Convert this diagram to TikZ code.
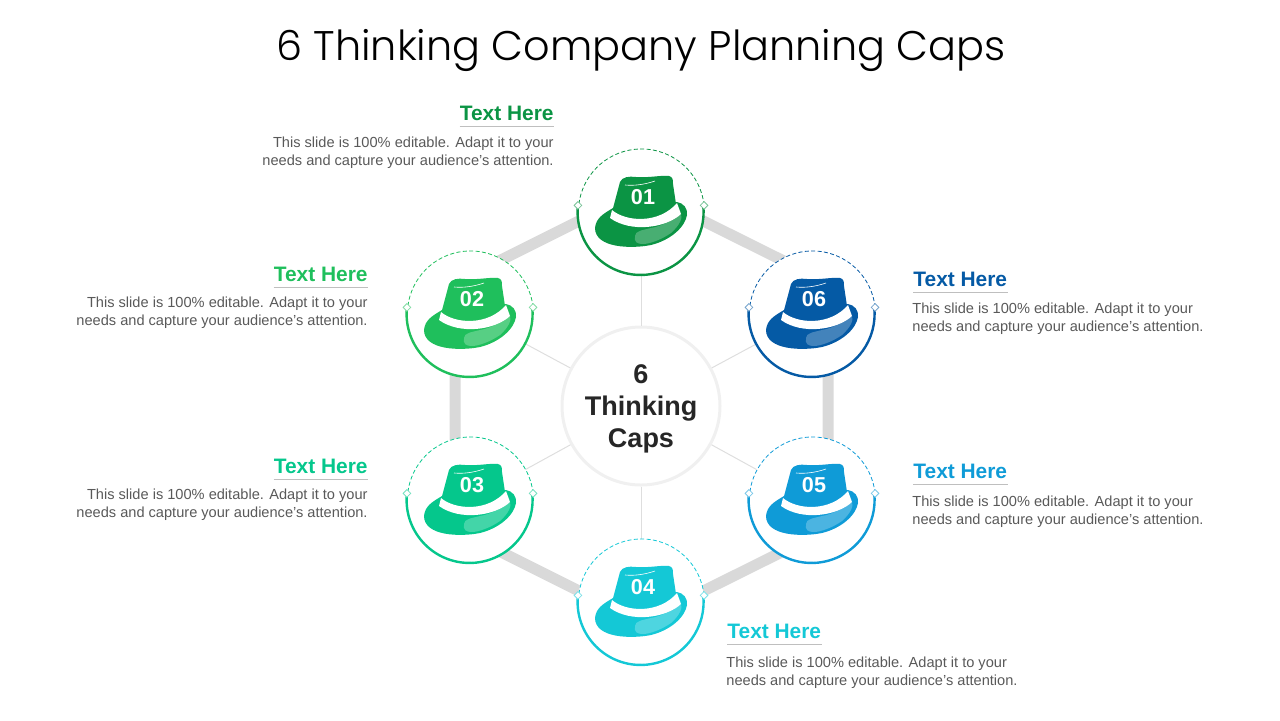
\documentclass[tikz,border=0pt]{standalone}
\usepackage{fontspec}
\setmainfont{Liberation Sans}
\newfontfamily\titlefont{Poppins Light}
\usetikzlibrary{shapes.geometric}
\definecolor{capa}{HTML}{0B9444}
\definecolor{capb}{HTML}{1FBF5C}
\definecolor{capc}{HTML}{05C78C}
\definecolor{capd}{HTML}{14C8D6}
\definecolor{cape}{HTML}{0F9BD7}
\definecolor{capf}{HTML}{055AA5}
\definecolor{bartone}{HTML}{D9D9D9}
\definecolor{bodytone}{HTML}{595959}
\tikzset{
	capring/.style={circle,fill=white,minimum size=63pt,inner sep=0pt},
	tick/.style={diamond,draw=#1!55!white,fill=white,line width=.4pt,minimum size=4pt,inner sep=0pt},
	headtext/.style={font=\bfseries\fontsize{10.45}{12}\selectfont,inner sep=0pt,text=#1},
	bodytext/.style={font=\fontsize{7.3}{9}\selectfont,text=bodytone,inner sep=0pt},
	pics/hat/.style args={#1/#2}{code={
		\fill[#1] (-46,16) .. controls (-45,6) and (-38,2) .. (-28,-4) -- (36,-10) .. controls (42,-9) and (47,-4) .. (46,3) .. controls (44,15) and (30,28) .. (10,33) .. controls (-10,37) and (-46,36) .. (-46,16) -- cycle;
		\fill[#1] (-29,0) -- (-21,-30) .. controls (-19,-35) and (-12,-36) .. (-5,-35) .. controls (8,-34) and (20,-37) .. (28,-36) .. controls (32,-35) and (32,-32) .. (32,-28) -- (35,-8) -- cycle;
		\fill[white,opacity=.25] (-6,24) .. controls (-6,19) and (2,18) .. (10,16) .. controls (22,14) and (33,7) .. (40,2) .. controls (42,6) and (38,14) .. (30,21) .. controls (20,28) and (8,32) .. (2,32) .. controls (-4,32) and (-7,30) .. (-6,24) -- cycle;
		\fill[white] (-29,-2) .. controls (-15,10) and (18,12) .. (36,-9) -- (40,2) .. controls (25,16) and (-10,21) .. (-31,6) -- cycle;
		\draw[white,line width=.3pt] (-16,-27) .. controls (-5,-26) and (5,-28) .. (14,-31);
		\node[text=white,font=\bfseries\fontsize{10.8}{12}\selectfont,inner sep=0pt] at (2,-15) {#2};
	}}
}
\begin{document}
\begin{tikzpicture}
				[x=.5pt,y=-.5pt]
				\useasboundingbox (0,0) rectangle (1280,720);
				\node[font=\titlefont\fontsize{20.7}{26}\selectfont,inner sep=0pt] (title) at (641,50) {6 Thinking Company Planning Caps};
				
				\coordinate (v1) at (641,190);
				\coordinate (v2) at (455,283);
				\coordinate (v3) at (455,529);
				\coordinate (v4) at (641,622);
				\coordinate (v5) at (828,529);
				\coordinate (v6) at (828,283);
				\draw[bartone,line width=5.5pt] (v1) -- (v2) -- (v3) -- (v4) -- (v5) -- (v6) -- cycle;
				
				\node[circle,draw=black!6,fill=white,line width=1.5pt,minimum size=79pt,inner sep=0pt] (hub) at (641,406) {};
				\node[inner sep=0pt,align=center,font=\bfseries\fontsize{13.5}{16}\selectfont,text=black!85] (hubtext) at (641,409) {6\\Thinking\\Caps};
				
				\node[capring] (c1) at (641,212) {};
				\node[capring] (c2) at (470,314) {};
				\node[capring] (c3) at (470,500) {};
				\node[capring] (c4) at (641,602) {};
				\node[capring] (c5) at (812,500) {};
				\node[capring] (c6) at (812,314) {};
				
				\foreach \to in {c1,c2,c3,c4,c5,c6}
				\draw[black!13,line width=.5pt] (hub) -- (\to);
				
				\foreach \ring/\tone/\num in {c1/capa/01,c2/capb/02,c3/capc/03,c4/capd/04,c5/cape/05,c6/capf/06}
				{
					\draw[\tone,line width=.4pt,dash pattern=on 2pt off 1.2pt] (\ring.6) arc[start angle=6,end angle=174,radius=31.5pt];
					\draw[\tone,line width=1.2pt] (\ring.174) arc[start angle=174,end angle=366,radius=31.5pt];
					\node[tick=\tone] (\ring l) at (\ring.174) {};
					\node[tick=\tone] (\ring r) at (\ring.6) {};
					\pic at (\ring) {hat={\tone/\num}};
				}
				
				\node[headtext=capa,anchor=east] (h1) at (554,113) {Text Here};
				\node[headtext=capb,anchor=east] (h2) at (368,274) {Text Here};
				\node[headtext=capc,anchor=east] (h3) at (368,466) {Text Here};
				\node[headtext=capd,anchor=west] (h4) at (727,631) {Text Here};
				\node[headtext=cape,anchor=west] (h5) at (913,471) {Text Here};
				\node[headtext=capf,anchor=west] (h6) at (913,279) {Text Here};
				
				\node[bodytext,align=right,anchor=east] (b1) at (554,153) {This slide is 100\% editable. Adapt it to your\\needs and capture your audience's attention.};
				\node[bodytext,align=right,anchor=east] (b2) at (368,313) {This slide is 100\% editable. Adapt it to your\\needs and capture your audience's attention.};
				\node[bodytext,align=right,anchor=east] (b3) at (368,505) {This slide is 100\% editable. Adapt it to your\\needs and capture your audience's attention.};
				\node[bodytext,align=left,anchor=west] (b4) at (726,673) {This slide is 100\% editable. Adapt it to your\\needs and capture your audience's attention.};
				\node[bodytext,align=left,anchor=west] (b5) at (912,512) {This slide is 100\% editable. Adapt it to your\\needs and capture your audience's attention.};
				\node[bodytext,align=left,anchor=west] (b6) at (912,319) {This slide is 100\% editable. Adapt it to your\\needs and capture your audience's attention.};
				
				\foreach \from in {h1,h2,h3,h4,h5,h6}
				\draw[black!25,line width=.3pt] ([yshift=-3pt]\from.south west) -- ([yshift=-3pt]\from.south east);
\end{tikzpicture}
\end{document}
